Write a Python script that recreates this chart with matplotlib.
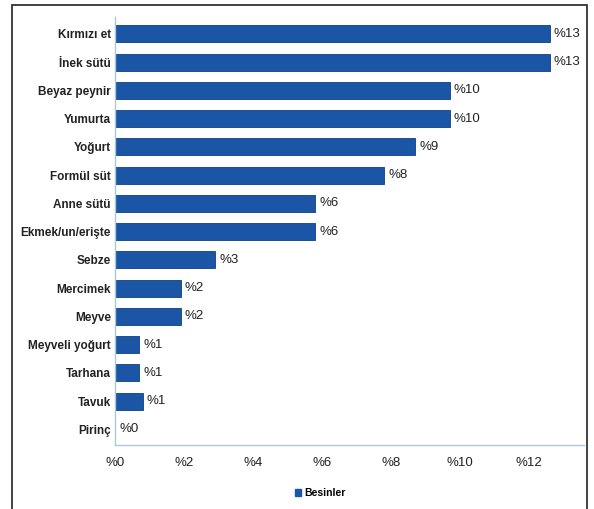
import matplotlib
matplotlib.use("Agg")
import matplotlib.pyplot as plt
from matplotlib.patches import Rectangle

plt.rcParams["font.family"] = ["Liberation Sans", "DejaVu Sans"]

foods = ["Kırmızı et", "İnek sütü", "Beyaz peynir", "Yumurta", "Yoğurt",
         "Formül süt", "Anne sütü", "Ekmek/un/erişte", "Sebze", "Mercimek",
         "Meyve", "Meyveli yoğurt", "Tarhana", "Tavuk", "Pirinç"]
shares = [12.6, 12.6, 9.7, 9.7, 8.7, 7.8, 5.8, 5.8, 2.9, 1.9, 1.9, 0.7, 0.7, 0.8, 0.0]
share_labels = ["%13", "%13", "%10", "%10", "%9", "%8", "%6", "%6", "%3", "%2",
                "%2", "%1", "%1", "%1", "%0"]
xticks = [0, 2, 4, 6, 8, 10, 12]
xtick_labels = ["%0", "%2", "%4", "%6", "%8", "%10", "%12"]

bar_color = "#1a55a6"
axis_color = "#a8cbdb"

fig = plt.figure(figsize=(5.94, 5.09), dpi=100)
ax = fig.add_axes([115 / 594, 1 - 445 / 509, (584 - 115) / 594, (445 - 17) / 509])

y = list(range(len(foods)))
ax.barh(y, shares, height=0.6, color=bar_color, edgecolor="#0f3f85", linewidth=0.6)
ax.set_ylim(len(foods) - 0.45, -0.6)
ax.set_xlim(0, 13.6)

for yi, v, lab in zip(y, shares, share_labels):
    ax.text(v + 0.12, yi, lab, va="center", ha="left", fontsize=9.5, color="#222222")

ax.set_yticks(y)
ax.set_yticklabels(foods, fontsize=8.5, fontweight="bold", color="#222222")
ax.set_xticks(xticks)
ax.set_xticklabels(xtick_labels, fontsize=9.5, color="#222222")
ax.tick_params(axis="both", length=0)
ax.tick_params(axis="x", pad=9)
ax.tick_params(axis="y", pad=3)

for side in ["top", "right"]:
    ax.spines[side].set_visible(False)
for side in ["left", "bottom"]:
    ax.spines[side].set_color(axis_color)
    ax.spines[side].set_linewidth(1.0)

handle = Rectangle((0, 0), 1, 1, color=bar_color)
fig.legend([handle], ["Besinler"], loc="center", bbox_to_anchor=(320 / 594, 1 - 493 / 509),
           frameon=False, fontsize=7.5, handlelength=0.6, handleheight=0.6,
           handletextpad=0.3, prop={"weight": "bold", "size": 7.5})

# outer frame around the figure
frame = Rectangle((12 / 594, -0.05), (587 - 12) / 594, 1.05 - 5 / 509,
                  transform=fig.transFigure, fill=False, edgecolor="#333333",
                  linewidth=1.3)
fig.patches.append(frame)

fig.savefig("out.png", dpi=100)
